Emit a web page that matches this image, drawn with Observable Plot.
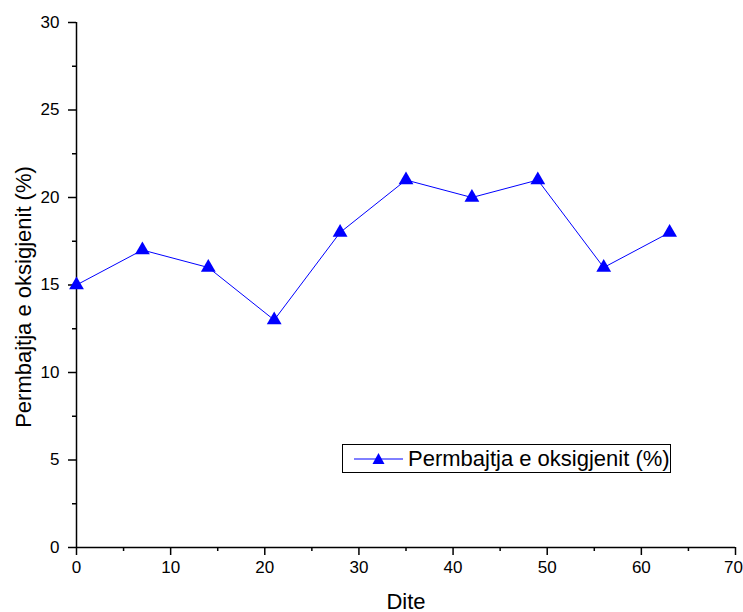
<!DOCTYPE html>
<html>
<head>
<meta charset="utf-8">
<script src="https://cdn.jsdelivr.net/npm/d3@7"></script>
<script src="https://cdn.jsdelivr.net/npm/@observablehq/plot@0.6"></script>
<style>
  html, body { margin: 0; padding: 0; background: #fff; }
  #wrap { position: relative; width: 743px; height: 612px; font-family: "Liberation Sans", Arial, sans-serif; }
  #wrap svg text { font-family: "Liberation Sans", Arial, sans-serif; }
  g[aria-label="x-axis label"] text { font-size: 22px; }
  #legend { position: absolute; left: 342px; top: 444px; width: 329px; height: 29px; border: 1px solid #000; box-sizing: border-box; background: #fff; display: flex; align-items: center; font-size: 22px; color: #000; white-space: nowrap; }
  #legend svg { margin-left: 11px; margin-right: 5px; flex: none; }
</style>
</head>
<body>
<div id="wrap"></div>
<script>
const days = [0, 7, 14, 21, 28, 35, 42, 49, 56, 63];
const oxygen = [15, 17, 16, 13, 18, 21, 20, 21, 16, 18];
const seriesName = "Permbajtja e oksigjenit (%)";
const xTitle = "Dite";
const yTitle = "Permbajtja e oksigjenit (%)";
const xMajor = [0, 10, 20, 30, 40, 50, 60, 70];
const xMinor = [5, 15, 25, 35, 45, 55, 65];
const yMajor = [0, 5, 10, 15, 20, 25, 30];
const yMinor = [2.5, 7.5, 12.5, 17.5, 22.5, 27.5];

const data = days.map((d, i) => ({day: d, value: oxygen[i]}));
const blue = "#0000ff";
const xLast = xMajor[xMajor.length - 1];

const chart = Plot.plot({
  width: 743,
  height: 612,
  marginLeft: 76,
  marginRight: 8,
  marginTop: 22,
  marginBottom: 65,
  style: {fontSize: "17px", color: "#000", background: "#fff"},
  x: {domain: [0, 70]},
  y: {domain: [0, 30]},
  marks: [
    Plot.axisX({ticks: xMajor, tickSize: 8, tickPadding: 5, fontSize: 17, tickFormat: d => d === xLast ? "" : d, label: xTitle, labelAnchor: "center", labelArrow: "none", labelOffset: 61, strokeWidth: 1.5}),
    Plot.axisX({ticks: [xLast], tickSize: 0, tickPadding: 13, fontSize: 17, dx: -2, tickFormat: d => d, label: null}),
    Plot.axisX({ticks: xMinor, tickSize: 4, text: null, label: null, strokeWidth: 1.5}),
    Plot.axisY({ticks: yMajor, tickSize: 8, tickPadding: 9, fontSize: 17, tickFormat: d => d, label: null, strokeWidth: 1.5}),
    Plot.axisY({ticks: yMinor, tickSize: 4, text: null, label: null, strokeWidth: 1.5}),
    Plot.text([yTitle], {frameAnchor: "left", rotate: -90, dx: -53, dy: 12, fontSize: 22, fill: "#000", textAnchor: "middle", lineAnchor: "middle"}),
    Plot.ruleX([0], {stroke: "#000", strokeWidth: 1.5}),
    Plot.ruleY([0], {stroke: "#000", strokeWidth: 1.5}),
    Plot.line(data, {x: "day", y: "value", stroke: blue, strokeWidth: 1}),
    Plot.dot(data, {x: "day", y: "value", symbol: "triangle", r: 5.5, fill: blue, stroke: "none"})
  ]
});
const wrap = document.getElementById("wrap");
wrap.appendChild(chart);

const legend = document.createElement("div");
legend.id = "legend";
legend.innerHTML = `<svg width="49" height="16"><line x1="0" y1="8" x2="49" y2="8" stroke="${blue}" stroke-width="1"/><path d="M24.5,2 L30.5,13 L18.5,13 Z" fill="${blue}"/></svg><span>${seriesName}</span>`;
wrap.appendChild(legend);
</script>
</body>
</html>
